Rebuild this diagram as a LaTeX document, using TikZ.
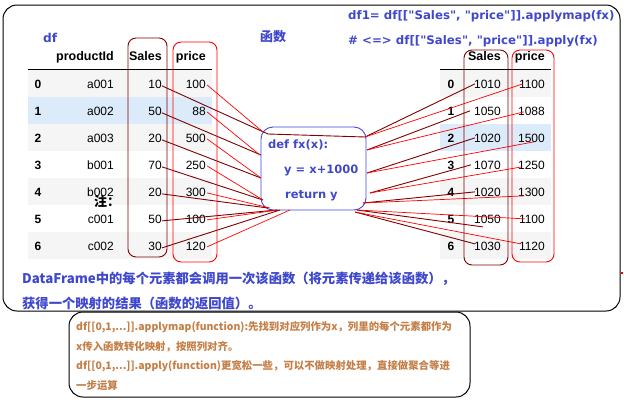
\documentclass[tikz,border=0pt]{standalone}
\usepackage{fontspec}
\setmainfont{Liberation Sans}
\newfontfamily\cjk{Noto Sans CJK SC}
\newfontfamily\dvs{DejaVu Sans}
\definecolor{fblue}{RGB}{63,72,204}
\definecolor{boxblue}{RGB}{64,72,220}
\definecolor{dred}{RGB}{128,0,0}
\definecolor{lred}{RGB}{255,0,0}
\definecolor{brn}{RGB}{196,126,70}
\definecolor{rowgray}{RGB}{245,245,245}
\definecolor{rowblue}{RGB}{220,235,250}
\tikzset{
 cell/.style={inner sep=0pt, anchor=base east, font=\fontsize{12}{14}\selectfont},
 idx/.style={inner sep=0pt, anchor=base, font=\fontsize{12}{14}\selectfont\bfseries},
 hdr/.style={inner sep=0pt, anchor=base east, font=\fontsize{12.5}{14}\selectfont\bfseries},
 btxt/.style={inner sep=0pt, anchor=base west, text=fblue, font=\dvs\bfseries\fontsize{11.8}{14}\selectfont},
 ctxt/.style={inner sep=0pt, anchor=base west, text=fblue, font=\cjk\bfseries\fontsize{13.3}{16}\selectfont},
 ntxt/.style={inner sep=0pt, anchor=base west, text=brn, font=\cjk\bfseries\fontsize{10.4}{14}\selectfont},
 sline/.style={dred, line width=0.9pt},
 pline/.style={lred, line width=0.7pt},
 sbox/.style={draw=dred, line width=0.9pt, rounded corners=8pt},
 pbox/.style={draw=lred, line width=0.9pt, rounded corners=8pt},
 fxbox/.style={draw=boxblue, line width=0.9pt, rounded corners=12pt, minimum width=105pt, minimum height=83pt, inner sep=0pt},
}
\begin{document}
\begin{tikzpicture}[x=1pt,y=-1pt]
\useasboundingbox (0,0) rectangle (624,402);
% frames
\draw[line width=1pt, rounded corners=14pt] (3,5) rectangle (620,311);
\draw[line width=1pt, rounded corners=14pt] (69,312) rectangle (470,397);
\fill[lred] (621,272) rectangle (623,274);
% row backgrounds
\foreach \i/\c in {0/rowgray,1/rowblue,2/rowgray,4/rowgray,6/rowgray}
  \fill[\c] (28,70+27*\i) rectangle (212,97+27*\i);
\foreach \i/\c in {0/rowgray,2/rowblue,4/rowgray,6/rowgray}
  \fill[\c] (440,70+27*\i) rectangle (551,97+27*\i);
\draw[line width=1pt] (28,69.5) -- (212,69.5);
\draw[line width=1pt] (440,69.5) -- (551,69.5);
% headers
\node[btxt, font=\dvs\bfseries\fontsize{12.2}{14}\selectfont] (dfl) at (43,42.5) {df};
\node[hdr] (hpid) at (114,60) {productId};
\node[hdr] (hls) at (162,60) {Sales};
\node[hdr] (hlp) at (206,60) {price};
\node[hdr] (hrs) at (501,60) {Sales};
\node[hdr] (hrp) at (545,60) {price};
\node[ctxt, font=\cjk\bfseries\fontsize{13}{16}\selectfont] (hanshu) at (260,41) {函数};
\node[btxt] (code1) at (348,19.5) {df1= df[["Sales", "price"]].applymap(fx)};
\node[btxt] (code2) at (348,44.5) {\# <=> df[["Sales", "price"]].apply(fx)};
% left table
\foreach \i/\pid/\s/\p in {0/a001/10/100,1/a002/50/88,2/a003/20/500,3/b001/70/250,4/b002/20/300,5/c001/50/100,6/c002/30/120}{
  \node[idx] (li\i) at (38,88+27*\i) {\i};
  \node[cell] (lid\i) at (114,88+27*\i) {\pid};
  \node[cell] (ls\i) at (162,88+27*\i) {\s};
  \node[cell] (lp\i) at (206,88+27*\i) {\p};
}
% right table
\foreach \i/\s/\p in {0/1010/1100,1/1050/1088,2/1020/1500,3/1070/1250,4/1020/1300,5/1050/1100,6/1030/1120}{
  \node[idx] (ri\i) at (451,88+27*\i) {\i};
  \node[cell] (rs\i) at (501,88+27*\i) {\s};
  \node[cell] (rp\i) at (545,88+27*\i) {\p};
}
\node[inner sep=0pt, anchor=base west, font=\cjk\bfseries\fontsize{13}{16}\selectfont] (zhu) at (94,206) {注：};
% function box
\node[fxbox] (fx) at (313.5,168.5) {};
\node[btxt, font=\dvs\bfseries\fontsize{11.5}{14}\selectfont] (f1) at (268,148) {def fx(x):};
\node[btxt, font=\dvs\bfseries\fontsize{11.5}{14}\selectfont] (f2) at (284,173.5) {y = x+1000};
\node[btxt, font=\dvs\bfseries\fontsize{11.5}{14}\selectfont] (f3) at (285,198.5) {return y};
% attachment points on function box
\foreach \n/\x/\y in {fls0/268/134,fls1/261/155,fls2/261/178,fls3/263/200,fls4/268/208,fls5/277/210,fls6/280/210,
  flp0/263/132,flp1/260/155,flp2/261/178,flp3/263/200,flp4/270/208,flp5/278/210,flp6/290/210,
  fr0/365/137,fr1/367/150,fr2/367/173,fr3/370/193,fr4/363/203,fr5/357/210,fr6/355/212}
  \coordinate (\n) at (\x,\y);
% left connectors
\foreach \i in {0,...,6}{
  \draw[sline] ([yshift=-2pt]ls\i.east) -- (fls\i);
  \draw[pline] ([xshift=1pt,yshift=-1pt]lp\i.east) -- (flp\i);
}
\draw[sline] (fls0) -- (fr0);
% right connectors
\draw[sline] (fr0) -- ([xshift=1pt]rs0.west);
\draw[pline] (fr0) -- ([xshift=4pt]rp0.west);
\draw[sline] (fr1) -- ([xshift=-4pt]rs1.west);
\draw[pline] (fr1) -- ([xshift=6pt,yshift=-1pt]rp1.west);
\draw[sline] (fr2) -- ([xshift=1pt]rs2.west);
\draw[pline] (fr2) -- ([xshift=16pt,yshift=-4pt]rp2.west);
\draw[sline] (fr3) -- ([xshift=-3pt]rs3.west);
\draw[pline] (fr3) -- ([xshift=4pt,yshift=-2pt]rp3.west);
\draw[sline] (fr4) -- ([xshift=1pt]rs4.west);
\draw[pline] (fr4) -- ([xshift=6pt,yshift=-4pt]rp4.west);
\draw[sline] (fr5) -- ([xshift=9pt,yshift=-8pt]rs5.west);
\draw[pline] (fr5) -- ([xshift=6pt]rp5.west);
\draw[sline] (fr6) -- ([xshift=1pt,yshift=2pt]rs6.west);
\draw[pline] (fr6) -- ([xshift=2pt,yshift=2pt]rp6.west);
% column outlines
\draw[sbox] (128,38) rectangle (167,257);
\draw[pbox] (173,42) rectangle (217,262);
\draw[sbox] (464,50) rectangle (508,265);
\draw[pbox] (512,50) rectangle (554,262);
% bottom texts
\node[ctxt] (note1) at (22,283) {DataFrame中的每个元素都会调用一次该函数（将元素传递给该函数），};
\node[ctxt] (note2) at (22,308) {获得一个映射的结果（函数的返回值）。};
\node[ntxt] (n1) at (76,330) {df[[0,1,...]].applymap(function):先找到对应列作为x，列里的每个元素都作为};
\node[ntxt] (n2) at (76,350) {x传入函数转化映射，按照列对齐。};
\node[ntxt] (n3) at (76,369.5) {df[[0,1,...]].apply(function)更宽松一些，可以不做映射处理，直接做聚合等进};
\node[ntxt] (n4) at (76,389) {一步运算};
\end{tikzpicture}
\end{document}
